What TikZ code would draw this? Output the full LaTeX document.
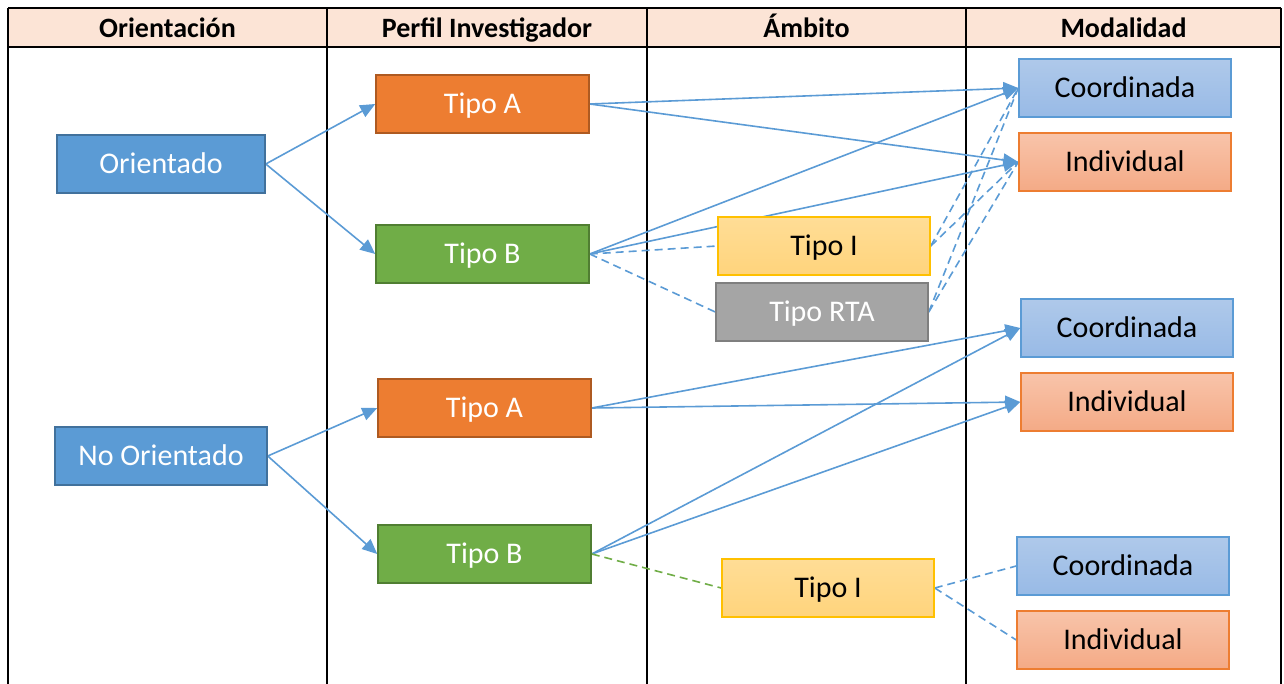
\documentclass[tikz,border=0pt]{standalone}
\usepackage{fontspec}
\setmainfont{Carlito}
\usetikzlibrary{arrows.meta,backgrounds}
\definecolor{hdr}{HTML}{FCE4D6}
\definecolor{bluef}{HTML}{5B9BD5}
\definecolor{blued}{HTML}{41719C}
\definecolor{orangef}{HTML}{ED7D31}
\definecolor{oranged}{HTML}{AE5A21}
\definecolor{greenf}{HTML}{70AD47}
\definecolor{greend}{HTML}{507E32}
\definecolor{greyf}{HTML}{A5A5A5}
\definecolor{greyd}{HTML}{7F7F7F}
\definecolor{yelt}{HTML}{FFDD96}
\definecolor{yelb}{HTML}{FFD47C}
\definecolor{yeld}{HTML}{FFC000}
\definecolor{coordt}{HTML}{AFC9EA}
\definecolor{coordb}{HTML}{98BAE6}
\definecolor{indt}{HTML}{F8C4AA}
\definecolor{indb}{HTML}{F4AA86}
\pgfdeclarelayer{grid}
\pgfdeclarelayer{edges}
\pgfsetlayers{grid,edges,main}
\tikzset{
  box/.style={minimum width=212pt,minimum height=58pt,inner sep=0pt,line width=1.5pt,
    font=\fontsize{30}{33}\selectfont,text height=19.5pt,text depth=0pt},
  orient/.style={box,fill=bluef,draw=blued,text=white},
  tipoa/.style={box,fill=orangef,draw=oranged,text=white},
  tipob/.style={box,fill=greenf,draw=greend,text=white},
  tipoi/.style={box,top color=yelt,bottom color=yelb,draw=yeld,text=black},
  tiporta/.style={box,fill=greyf,draw=greyd,text=white},
  coord/.style={box,top color=coordt,bottom color=coordb,draw=bluef,text=black},
  indiv/.style={box,top color=indt,bottom color=indb,draw=orangef,text=black},
  hdrtext/.style={font=\fontsize{28}{30}\selectfont\bfseries,anchor=base,inner sep=0pt},
  arr/.style={draw=bluef,line width=1.6pt,-{Triangle[length=15pt,width=13pt]}},
  dsh/.style={draw=bluef,line width=1.6pt,dash pattern=on 8pt off 5pt},
  gdsh/.style={draw=greenf,line width=1.6pt,dash pattern=on 8pt off 5pt},
  gridline/.style={draw=black,line width=2.5pt}
}
\begin{document}
\begin{tikzpicture}[x=1pt,y=-1pt]
\useasboundingbox (0,0) rectangle (1284,684);
% header and grid
\begin{pgfonlayer}{grid}
\fill[hdr] (8,8) rectangle (1281,47);
\draw[gridline] (8,8) -- (1281,8);
\draw[gridline] (8,47) -- (1281,47);
\foreach \x in {8,327,647,966,1281} \draw[gridline] (\x,8) -- (\x,690);
\end{pgfonlayer}
\node[hdrtext] (h1) at (167.5,38) {Orientación};
\node[hdrtext] (h2) at (487,38) {Perfil Investigador};
\node[hdrtext] (h3) at (806.5,38) {Ámbito};
\node[hdrtext] (h4) at (1123.5,38) {Modalidad};
% nodes
\node[orient,minimum width=208pt] (or) at (161,164) {Orientado};
\node[orient] (no) at (161,456) {No Orientado};
\node[tipoa,minimum width=213pt] (ta1) at (482.5,104) {Tipo A};
\node[tipob,minimum width=213pt] (tb1) at (482.5,254) {Tipo B};
\node[tipoa,minimum width=213pt] (ta2) at (484.5,408) {Tipo A};
\node[tipob,minimum width=213pt] (tb2) at (484.5,554) {Tipo B};
\node[tipoi] (ti1) at (824,246) {Tipo I};
\node[tiporta] (rta) at (822,312) {Tipo RTA};
\node[tipoi] (ti2) at (828,588) {Tipo I};
\node[coord] (c1) at (1125,88) {Coordinada};
\node[indiv] (i1) at (1125,162) {Individual};
\node[coord] (c2) at (1127,328) {Coordinada};
\node[indiv] (i2) at (1127,402) {Individual};
\node[coord] (c3) at (1123,566) {Coordinada};
\node[indiv] (i3) at (1123,640) {Individual};
% edges
\begin{pgfonlayer}{edges}
\draw[arr] (or.east) -- (ta1.west);
\draw[arr] (or.east) -- (tb1.west);
\draw[arr] (no.east) -- (ta2.west);
\draw[arr] (no.east) -- (tb2.west);
\draw[arr] (ta1.east) -- (c1.west);
\draw[arr] (ta1.east) -- (i1.west);
\draw[arr] (tb1.east) -- (c1.west);
\draw[arr] (tb1.east) -- (i1.west);
\draw[dsh] (tb1.east) -- (ti1.west);
\draw[dsh] (tb1.east) -- (rta.west);
\draw[dsh] (ti1.east) -- (c1.west);
\draw[dsh] (ti1.east) -- (i1.west);
\draw[dsh] (rta.east) -- (c1.west);
\draw[dsh] (rta.east) -- (i1.west);
\draw[arr] (ta2.east) -- (c2.west);
\draw[arr] (ta2.east) -- (i2.west);
\draw[arr] (tb2.east) -- (c2.west);
\draw[arr] (tb2.east) -- (i2.west);
\draw[gdsh] (tb2.east) -- (ti2.west);
\draw[dsh] (ti2.east) -- (c3.west);
\draw[dsh] (ti2.east) -- (i3.west);
\end{pgfonlayer}
\end{tikzpicture}
\end{document}
